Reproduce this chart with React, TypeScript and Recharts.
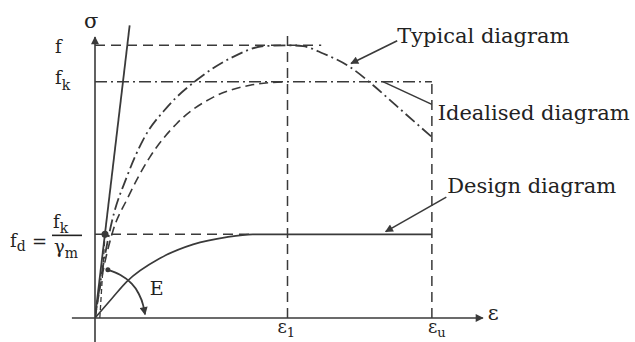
import React from "react";
import { LineChart, Line, XAxis, YAxis, ReferenceLine, ReferenceDot } from "recharts";

const INK = "#3a3a3a";
const TEXT = "#222222";
const SERIF = "'DejaVu Serif', serif";

// stress levels and strains (per mille)
const F_MEAN = 30;
const F_K = 26;
const F_D = 9.2;
const EPS_1 = 2.0;
const EPS_U = 3.5;

const xTicks = [EPS_1, EPS_U];
const yTicks = [F_D, F_K, F_MEAN];

const typicalCurve = [
  { x: 0, y: 0 },
  { x: 0.08, y: 5.5 },
  { x: 0.18, y: 10.8 },
  { x: 0.33, y: 15.5 },
  { x: 0.5, y: 19.6 },
  { x: 0.75, y: 23.2 },
  { x: 1.06, y: 26.2 },
  { x: 1.43, y: 28.7 },
  { x: 1.75, y: 29.9 },
  { x: 2.0, y: 30.0 },
  { x: 2.16, y: 29.9 },
  { x: 2.37, y: 29.1 },
  { x: 2.65, y: 27.6 },
  { x: 2.89, y: 25.6 },
  { x: 3.03, y: 24.3 },
  { x: 3.2, y: 22.7 },
  { x: 3.5, y: 19.9 },
];

const idealisedRise = [
  { x: 0, y: 0 },
  { x: 0.09, y: 5.5 },
  { x: 0.19, y: 9.7 },
  { x: 0.33, y: 13.0 },
  { x: 0.57, y: 17.7 },
  { x: 0.85, y: 21.4 },
  { x: 1.23, y: 24.3 },
  { x: 1.61, y: 25.6 },
  { x: 2.0, y: 26.0 },
];

const idealisedFall = [
  { x: 2.99, y: 26.0 },
  { x: 3.5, y: 23.5 },
];

const designCurve = [
  { x: 0, y: 0 },
  { x: 0.18, y: 2.2 },
  { x: 0.33, y: 4.0 },
  { x: 0.68, y: 6.6 },
  { x: 1.02, y: 8.1 },
  { x: 1.37, y: 8.9 },
  { x: 1.64, y: 9.2 },
  { x: 3.5, y: 9.2 },
];

const tangentLine = [
  { x: 0, y: 0 },
  { x: 0.36, y: 32.2 },
];

const secantLine = [
  { x: 0.05, y: 0 },
  { x: 0.104, y: 9.2 },
];

const modulusArc = [
  { x: 0.134, y: 5.3 },
  { x: 0.26, y: 4.76 },
  { x: 0.37, y: 3.9 },
  { x: 0.45, y: 2.75 },
  { x: 0.5, y: 1.42 },
  { x: 0.52, y: 0.4 },
];

const arrowLine = (p: any) => (
  <line x1={p.x1} y1={p.y1} x2={p.x2} y2={p.y2} stroke={INK} strokeWidth={1.6} markerEnd="url(#arrowHead)" />
);

const textShape = (label: string, size = 21, anchor = "start") => (p: any) => (
  <text x={p.cx} y={p.cy} fontFamily={SERIF} fontSize={size} fill={TEXT} textAnchor={anchor}>
    {label}
  </text>
);

const YTick = ({ x, y, payload }: any) => {
  const v = payload.value;
  const common = { fontFamily: SERIF, fill: TEXT };
  if (v === F_MEAN) {
    return <text x={x - 40} y={y + 8} fontSize={18} {...common}>f</text>;
  }
  if (v === F_K) {
    return (
      <text x={x - 40} y={y + 2} fontSize={18} {...common}>
        f<tspan dy={6} fontSize={14}>k</tspan>
      </text>
    );
  }
  return (
    <g>
      <text x={x - 85} y={y + 13} fontSize={18} {...common}>
        f<tspan dy={4} fontSize={14}>d</tspan>
      </text>
      <text x={x - 63} y={y + 14} fontSize={18} {...common}>=</text>
      <text x={x - 42} y={y - 6} fontSize={18} {...common}>
        f<tspan dy={5} fontSize={14}>k</tspan>
      </text>
      <line x1={x - 43} y1={y + 1} x2={x - 13} y2={y + 1} stroke={TEXT} strokeWidth={1.6} />
      <text x={x - 41} y={y + 19} fontSize={18} {...common}>
        γ<tspan dy={5} fontSize={14}>m</tspan>
      </text>
    </g>
  );
};

const XTick = ({ x, y, payload }: any) => {
  const sub = payload.value === EPS_1 ? "1" : "u";
  const dx = payload.value === EPS_1 ? -10 : -4;
  return (
    <text x={x + dx} y={y + 15} fontFamily={SERIF} fontSize={18} fill={TEXT}>
      ε<tspan dy={4} fontSize={13}>{sub}</tspan>
    </text>
  );
};

export default function App() {
  return (
    <div style={{ position: "absolute", left: 0, top: 0, width: 635, height: 342, background: "#fff" }}>
      <LineChart width={635} height={342} margin={{ top: 18, right: 155, bottom: 0, left: 0 }}>
        <defs>
          <marker id="arrowHead" viewBox="0 0 10 10" refX="9" refY="5" markerWidth="11" markerHeight="8" markerUnits="userSpaceOnUse" orient="auto">
            <path d="M0,0 L10,5 L0,10 z" fill={INK} />
          </marker>
        </defs>
        <XAxis
          type="number"
          dataKey="x"
          domain={[0, 4]}
          ticks={xTicks}
          height={24}
          axisLine={false}
          tickLine={false}
          tickSize={0}
          tickMargin={0}
          tick={<XTick />}
          allowDataOverflow
        />
        <YAxis
          type="number"
          dataKey="y"
          domain={[0, 33]}
          ticks={yTicks}
          width={95}
          axisLine={false}
          tickLine={false}
          tickSize={0}
          tickMargin={0}
          tick={<YTick />}
          allowDataOverflow
        />

        {/* axes with arrows */}
        <ReferenceLine segment={[{ x: -0.24, y: 0 }, { x: 4.03, y: 0 }]} ifOverflow="visible" shape={arrowLine} />
        <ReferenceLine segment={[{ x: 0, y: -2.7 }, { x: 0, y: 30.9 }]} ifOverflow="visible" shape={arrowLine} />

        {/* guide lines */}
        <ReferenceLine segment={[{ x: 0, y: F_MEAN }, { x: 2.35, y: F_MEAN }]} stroke={INK} strokeWidth={1.5} strokeDasharray="10 6" ifOverflow="visible" />
        <ReferenceLine segment={[{ x: 0, y: F_K }, { x: EPS_U, y: F_K }]} stroke={INK} strokeWidth={1.5} strokeDasharray="12 4 2 4" ifOverflow="visible" />
        <ReferenceLine segment={[{ x: 0, y: F_D }, { x: 1.64, y: F_D }]} stroke={INK} strokeWidth={1.5} strokeDasharray="10 6" ifOverflow="visible" />
        <ReferenceLine segment={[{ x: EPS_1, y: 0 }, { x: EPS_1, y: 31.5 }]} stroke={INK} strokeWidth={1.5} strokeDasharray="10 6" ifOverflow="visible" />
        <ReferenceLine segment={[{ x: EPS_U, y: 0 }, { x: EPS_U, y: F_K }]} stroke={INK} strokeWidth={1.5} strokeDasharray="10 6" ifOverflow="visible" />

        {/* curves */}
        <Line data={tangentLine} dataKey="y" type="linear" stroke={INK} strokeWidth={1.8} dot={false} isAnimationActive={false} />
        <Line data={secantLine} dataKey="y" type="linear" stroke={INK} strokeWidth={1.3} strokeDasharray="5 3" dot={false} isAnimationActive={false} />
        <Line data={typicalCurve} dataKey="y" type="monotone" stroke={INK} strokeWidth={1.8} strokeDasharray="12 4 2 4" dot={false} isAnimationActive={false} />
        <Line data={idealisedRise} dataKey="y" type="monotone" stroke={INK} strokeWidth={1.6} strokeDasharray="9 5" dot={false} isAnimationActive={false} />
        <Line data={idealisedFall} dataKey="y" type="linear" stroke={INK} strokeWidth={1.6} dot={false} isAnimationActive={false} />
        <Line data={designCurve} dataKey="y" type="monotone" stroke={INK} strokeWidth={1.6} dot={false} isAnimationActive={false} />
        <Line data={modulusArc} dataKey="y" type="monotone" stroke={INK} strokeWidth={1.8} dot={false} markerEnd="url(#arrowHead)" isAnimationActive={false} />

        {/* leaders */}
        <ReferenceLine segment={[{ x: 3.14, y: 30.5 }, { x: 2.66, y: 28.0 }]} ifOverflow="visible" shape={arrowLine} />
        <ReferenceLine segment={[{ x: 3.65, y: 13.3 }, { x: 3.02, y: 9.5 }]} ifOverflow="visible" shape={arrowLine} />

        {/* points */}
        <ReferenceDot x={0.104} y={F_D} r={3.5} fill={INK} stroke="none" ifOverflow="visible" />
        <ReferenceDot x={0.134} y={5.3} r={2.5} fill={INK} stroke="none" ifOverflow="visible" />

        {/* labels */}
        <ReferenceDot x={3.14} y={30.25} r={0} ifOverflow="visible" shape={textShape("Typical diagram")} />
        <ReferenceDot x={3.56} y={21.8} r={0} ifOverflow="visible" shape={textShape("Idealised diagram")} />
        <ReferenceDot x={3.66} y={13.75} r={0} ifOverflow="visible" shape={textShape("Design diagram")} />
        <ReferenceDot x={-0.04} y={31.9} r={0} ifOverflow="visible" shape={textShape("σ", 21, "middle")} />
        <ReferenceDot x={4.08} y={-0.2} r={0} ifOverflow="visible" shape={textShape("ε", 21)} />
        <ReferenceDot x={0.57} y={2.5} r={0} ifOverflow="visible" shape={textShape("E", 19)} />
      </LineChart>
    </div>
  );
}
